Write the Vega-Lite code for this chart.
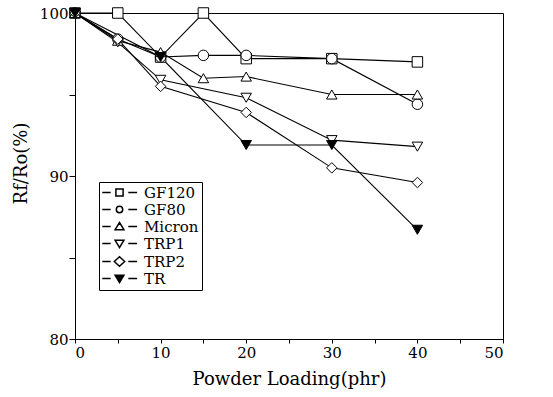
{
  "$schema": "https://vega.github.io/schema/vega-lite/v6.json",
  "width": 428,
  "height": 326,
  "autosize": {"type": "none"},
  "padding": {"left": 75, "top": 13, "right": 50, "bottom": 58},
  "background": "white",
  "config": {
    "view": {"stroke": "black", "strokeWidth": 1},
    "font": "DejaVu Serif",
    "axis": {
      "domainColor": "black",
      "tickColor": "black",
      "labelColor": "black",
      "titleColor": "black",
      "labelFont": "DejaVu Serif",
      "titleFont": "DejaVu Serif",
      "labelFontSize": 15,
      "titleFontSize": 18,
      "titleFontWeight": "normal",
      "grid": false
    }
  },
  "data": {
    "values": [
      {"s": "GF120", "x": 0, "y": 100}, {"s": "GF120", "x": 5, "y": 100}, {"s": "GF120", "x": 10, "y": 97.3}, {"s": "GF120", "x": 15, "y": 100}, {"s": "GF120", "x": 20, "y": 97.2}, {"s": "GF120", "x": 30, "y": 97.2}, {"s": "GF120", "x": 40, "y": 97.0},
      {"s": "GF80", "x": 0, "y": 100}, {"s": "GF80", "x": 5, "y": 98.4}, {"s": "GF80", "x": 10, "y": 97.3}, {"s": "GF80", "x": 15, "y": 97.4}, {"s": "GF80", "x": 20, "y": 97.4}, {"s": "GF80", "x": 30, "y": 97.2}, {"s": "GF80", "x": 40, "y": 94.4},
      {"s": "Micron", "x": 0, "y": 100}, {"s": "Micron", "x": 5, "y": 98.3}, {"s": "Micron", "x": 10, "y": 97.6}, {"s": "Micron", "x": 15, "y": 96.0}, {"s": "Micron", "x": 20, "y": 96.1}, {"s": "Micron", "x": 30, "y": 95.0}, {"s": "Micron", "x": 40, "y": 95.0},
      {"s": "TRP1", "x": 0, "y": 100}, {"s": "TRP1", "x": 5, "y": 98.2}, {"s": "TRP1", "x": 10, "y": 95.9}, {"s": "TRP1", "x": 20, "y": 94.8}, {"s": "TRP1", "x": 30, "y": 92.2}, {"s": "TRP1", "x": 40, "y": 91.8},
      {"s": "TRP2", "x": 0, "y": 100}, {"s": "TRP2", "x": 5, "y": 98.4}, {"s": "TRP2", "x": 10, "y": 95.5}, {"s": "TRP2", "x": 20, "y": 93.9}, {"s": "TRP2", "x": 30, "y": 90.5}, {"s": "TRP2", "x": 40, "y": 89.6},
      {"s": "TR", "x": 0, "y": 100}, {"s": "TR", "x": 10, "y": 97.3}, {"s": "TR", "x": 20, "y": 91.9}, {"s": "TR", "x": 30, "y": 91.9}, {"s": "TR", "x": 40, "y": 86.7}
    ]
  },
  "encoding": {
    "x": {
      "field": "x", "type": "quantitative",
      "scale": {"domain": [0, 50], "nice": false, "zero": false},
      "axis": {"title": "Powder Loading(phr)", "values": [0, 5, 10, 15, 20, 25, 30, 35, 40, 45, 50], "labelExpr": "datum.value % 10 === 0 ? datum.label : ''", "tickSize": 4, "labelPadding": 2, "titlePadding": 10}
    },
    "y": {
      "field": "y", "type": "quantitative",
      "scale": {"domain": [80, 100], "nice": false, "zero": false},
      "axis": {"title": "Rf/Ro(%)", "values": [80, 85, 90, 95, 100], "labelExpr": "datum.value % 10 === 0 ? datum.label : ''", "tickSize": 6, "labelPadding": 1, "titlePadding": 9, "titleY": 150}
    }
  },
  "resolve": {"scale": {"shape": "independent", "fill": "independent"}},
  "layer": [
    {
      "mark": {"type": "line", "color": "black", "strokeWidth": 1.1},
      "encoding": {"detail": {"field": "s"}}
    },
    {
      "mark": {"type": "point", "filled": true, "stroke": "black", "strokeWidth": 1, "size": 110, "opacity": 1},
      "encoding": {
        "shape": {
          "field": "s", "type": "nominal",
          "scale": {"domain": ["GF120", "GF80", "Micron", "TRP1", "TRP2", "TR"], "range": ["square", "circle", "triangle-up", "triangle-down", "diamond", "triangle-down"]},
          "legend": null
        },
        "fill": {
          "field": "s", "type": "nominal",
          "scale": {"domain": ["GF120", "GF80", "Micron", "TRP1", "TRP2", "TR"], "range": ["white", "white", "white", "white", "white", "black"]},
          "legend": null
        }
      }
    },
    {
      "mark": {"type": "point", "filled": true, "stroke": "black", "strokeWidth": 1, "size": 64, "opacity": 0},
      "encoding": {
        "shape": {
          "field": "s", "type": "nominal",
          "scale": {"domain": ["GF120", "GF80", "Micron", "TRP1", "TRP2", "TR"], "range": [
            "M-4.3,0H-2.2M2.2,0H4.4M-0.9,-0.9H0.9V0.9H-0.9Z",
            "M-4.3,0H-2.2M2.2,0H4.4M-0.8,0A0.8,0.8 0 1,0 0.8,0A0.8,0.8 0 1,0 -0.8,0Z",
            "M-4.3,0H-2.2M2.2,0H4.4M0,-1L1.1,0.8H-1.1Z",
            "M-4.3,0H-2.2M2.2,0H4.4M0,1L1.1,-0.8H-1.1Z",
            "M-4.3,0H-2.2M2.2,0H4.4M0,-1.2L1.3,0L0,1.2L-1.3,0Z",
            "M-4.3,0H-2.2M2.2,0H4.4M0,1L1.1,-0.8H-1.1ZM-1,-0.7H1M-0.98,-0.6H0.98M-0.92,-0.5H0.92M-0.86,-0.4H0.86M-0.8,-0.3H0.8M-0.73,-0.2H0.73M-0.67,-0.1H0.67M-0.61,0H0.61M-0.55,0.1H0.55M-0.49,0.2H0.49M-0.43,0.3H0.43M-0.37,0.4H0.37M-0.31,0.5H0.31M-0.24,0.6H0.24M-0.18,0.7H0.18M-0.12,0.8H0.12"
          ]},
          "legend": {
            "title": null, "orient": "none", "legendX": 24, "legendY": 169,
            "strokeColor": "black", "padding": 3, "labelFontSize": 15, "labelFont": "DejaVu Serif", "labelColor": "black",
            "labelExpr": "datum.label + '\u00a0\u00a0\u00a0'",
            "symbolSize": 64, "rowPadding": 1, "symbolOffset": 10, "labelOffset": 17,
            "encode": {"symbols": {"update": {"stroke": {"value": "black"}, "strokeWidth": {"value": 1}, "opacity": {"value": 1}}}}
          }
        },
        "fill": {
          "field": "s", "type": "nominal",
          "scale": {"domain": ["GF120", "GF80", "Micron", "TRP1", "TRP2", "TR"], "range": ["white", "white", "white", "white", "white", "black"]},
          "legend": null
        }
      }
    }
  ]
}
